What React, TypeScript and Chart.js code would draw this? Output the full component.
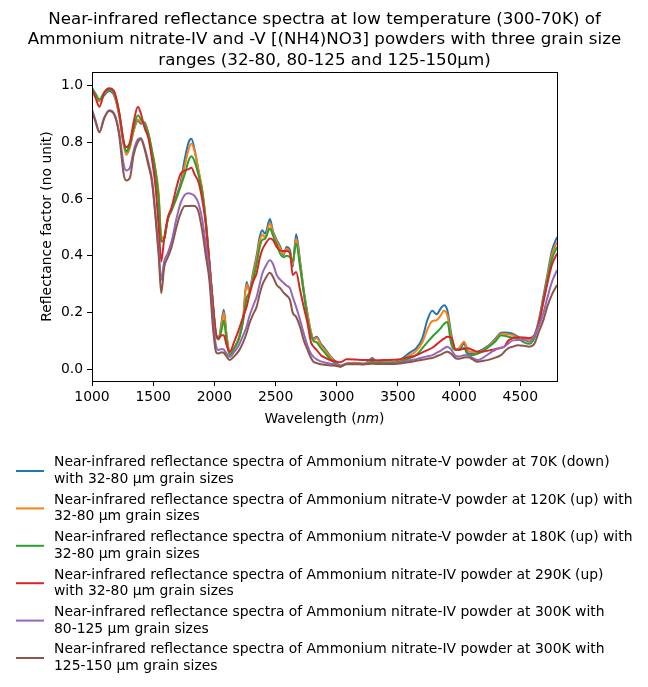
import React, { useEffect, useRef } from 'react';
import { Chart, registerables } from 'chart.js';

Chart.register(...registerables);

// ---------------- DATA ----------------
const wavelengths = [
  1000, 1030, 1060, 1100, 1140, 1180, 1220, 1260, 1280, 1310, 1340, 1375, 1400, 1430, 1460, 1490, 1520, 1545, 1566, 1590,
  1620, 1650, 1690, 1720, 1760, 1790, 1812, 1840, 1870, 1900, 1930, 1960, 1990, 2015, 2035, 2060, 2077, 2100, 2126, 2160,
  2200, 2235, 2263, 2285, 2318, 2345, 2370, 2390, 2415, 2454, 2480, 2510, 2540, 2565, 2590, 2618, 2640, 2668, 2700, 2730,
  2760, 2790, 2810, 2837, 2870, 2900, 2950, 3000, 3030, 3080, 3150, 3220, 3260, 3290, 3320, 3400, 3500, 3600, 3650, 3700,
  3740, 3781, 3816, 3850, 3876, 3904, 3935, 3972, 4000, 4040, 4075, 4110, 4150, 4200, 4260, 4300, 4342, 4370, 4400, 4440,
  4480, 4530, 4575, 4615, 4650, 4690, 4720, 4760, 4800,
];

const nitrateV_70K = [
  0.99, 0.965, 0.945, 0.965, 0.98, 0.965, 0.9, 0.79, 0.77, 0.79, 0.84, 0.875, 0.865, 0.87, 0.83, 0.76, 0.69, 0.6, 0.45, 0.46,
  0.53, 0.56, 0.61, 0.65, 0.745, 0.8, 0.812, 0.77, 0.7, 0.63, 0.52, 0.37, 0.22, 0.12, 0.11, 0.17, 0.21, 0.12, 0.055, 0.075,
  0.11, 0.18, 0.308, 0.28, 0.345, 0.4, 0.465, 0.49, 0.478, 0.529, 0.485, 0.455, 0.43, 0.402, 0.431, 0.42, 0.361, 0.476, 0.384, 0.28,
  0.2, 0.13, 0.109, 0.115, 0.09, 0.075, 0.045, 0.025, 0.012, 0.02, 0.023, 0.02, 0.028, 0.04, 0.028, 0.025, 0.03, 0.06, 0.075, 0.11,
  0.173, 0.206, 0.194, 0.215, 0.226, 0.208, 0.127, 0.068, 0.068, 0.091, 0.056, 0.055, 0.062, 0.072, 0.091, 0.11, 0.129, 0.13, 0.129, 0.125,
  0.115, 0.106, 0.107, 0.12, 0.17, 0.26, 0.33, 0.42, 0.466,
];

const nitrateV_120K = [
  0.99, 0.965, 0.945, 0.97, 0.985, 0.97, 0.9, 0.79, 0.755, 0.78, 0.84, 0.88, 0.87, 0.865, 0.83, 0.77, 0.7, 0.62, 0.47, 0.46,
  0.53, 0.56, 0.6, 0.64, 0.72, 0.775, 0.795, 0.765, 0.7, 0.635, 0.525, 0.375, 0.22, 0.12, 0.11, 0.16, 0.2, 0.12, 0.055, 0.075,
  0.11, 0.175, 0.3, 0.275, 0.335, 0.39, 0.45, 0.475, 0.465, 0.515, 0.48, 0.45, 0.425, 0.405, 0.425, 0.41, 0.37, 0.46, 0.375, 0.275,
  0.195, 0.13, 0.105, 0.11, 0.085, 0.07, 0.042, 0.022, 0.013, 0.02, 0.022, 0.02, 0.025, 0.035, 0.025, 0.024, 0.028, 0.05, 0.065, 0.095,
  0.14, 0.17, 0.173, 0.19, 0.206, 0.19, 0.115, 0.07, 0.075, 0.097, 0.066, 0.06, 0.06, 0.068, 0.088, 0.105, 0.125, 0.125, 0.123, 0.12,
  0.112, 0.104, 0.105, 0.118, 0.165, 0.25, 0.32, 0.405, 0.449,
];

const nitrateV_180K = [
  0.99, 0.97, 0.95, 0.975, 0.985, 0.975, 0.91, 0.8, 0.765, 0.79, 0.85, 0.895, 0.88, 0.86, 0.83, 0.77, 0.695, 0.6, 0.45, 0.46,
  0.53, 0.56, 0.605, 0.64, 0.69, 0.735, 0.75, 0.73, 0.685, 0.625, 0.52, 0.375, 0.22, 0.12, 0.105, 0.14, 0.173, 0.1, 0.05, 0.072,
  0.105, 0.17, 0.25, 0.27, 0.32, 0.37, 0.43, 0.455, 0.46, 0.496, 0.47, 0.44, 0.405, 0.395, 0.4, 0.395, 0.38, 0.443, 0.36, 0.27,
  0.18, 0.12, 0.1, 0.095, 0.075, 0.06, 0.035, 0.018, 0.009, 0.02, 0.02, 0.018, 0.022, 0.028, 0.022, 0.022, 0.025, 0.04, 0.05, 0.075,
  0.095, 0.115, 0.13, 0.145, 0.16, 0.167, 0.09, 0.068, 0.068, 0.075, 0.05, 0.05, 0.055, 0.065, 0.085, 0.1, 0.12, 0.118, 0.115, 0.112,
  0.108, 0.095, 0.09, 0.11, 0.16, 0.245, 0.31, 0.39, 0.431,
];

const nitrateIV_290K = [
  0.985, 0.955, 0.925, 0.975, 0.99, 0.98, 0.91, 0.8, 0.782, 0.8, 0.87, 0.925, 0.9, 0.85, 0.815, 0.74, 0.64, 0.5, 0.38, 0.46,
  0.535, 0.57, 0.64, 0.685, 0.7, 0.705, 0.71, 0.685, 0.66, 0.6, 0.51, 0.37, 0.22, 0.12, 0.11, 0.12, 0.12, 0.085, 0.062, 0.095,
  0.14, 0.185, 0.22, 0.26, 0.31, 0.338, 0.39, 0.42, 0.44, 0.461, 0.455, 0.43, 0.418, 0.417, 0.417, 0.41, 0.332, 0.343, 0.28, 0.22,
  0.165, 0.095, 0.08, 0.068, 0.05, 0.042, 0.032, 0.027, 0.025, 0.036, 0.035, 0.033, 0.033, 0.033, 0.032, 0.033, 0.035, 0.044, 0.05, 0.06,
  0.068, 0.076, 0.088, 0.1, 0.108, 0.115, 0.112, 0.07, 0.07, 0.072, 0.074, 0.068, 0.062, 0.063, 0.068, 0.072, 0.076, 0.08, 0.1, 0.11,
  0.113, 0.112, 0.11, 0.12, 0.16, 0.24, 0.3, 0.37, 0.408,
];

const nitrateIV_300K_80_125 = [
  0.915, 0.875, 0.835, 0.885, 0.912, 0.9, 0.84, 0.72, 0.7, 0.71, 0.77, 0.81, 0.815, 0.78, 0.73, 0.67, 0.54, 0.42, 0.315, 0.38,
  0.41, 0.45, 0.53, 0.58, 0.615, 0.62, 0.618, 0.61, 0.585, 0.53, 0.44, 0.34, 0.17, 0.08, 0.068, 0.072, 0.07, 0.055, 0.044, 0.06,
  0.085, 0.12, 0.15, 0.185, 0.225, 0.255, 0.3, 0.335, 0.36, 0.384, 0.37, 0.332, 0.315, 0.305, 0.295, 0.285, 0.255, 0.22, 0.175, 0.127,
  0.085, 0.055, 0.044, 0.035, 0.028, 0.024, 0.02, 0.016, 0.013, 0.02, 0.02, 0.018, 0.02, 0.022, 0.02, 0.02, 0.022, 0.032, 0.036, 0.042,
  0.046, 0.05, 0.058, 0.066, 0.074, 0.08, 0.07, 0.047, 0.045, 0.05, 0.05, 0.04, 0.033, 0.042, 0.06, 0.07, 0.075, 0.08, 0.09, 0.102,
  0.103, 0.103, 0.097, 0.12, 0.15, 0.2, 0.25, 0.31, 0.349,
];

const nitrateIV_300K_125_150 = [
  0.91, 0.87, 0.835, 0.885, 0.91, 0.9, 0.83, 0.685, 0.665, 0.675, 0.755, 0.8, 0.81, 0.775, 0.72, 0.66, 0.53, 0.4, 0.268, 0.36,
  0.395, 0.43, 0.5, 0.545, 0.575, 0.575, 0.576, 0.575, 0.555, 0.49, 0.4, 0.31, 0.14, 0.06, 0.056, 0.06, 0.058, 0.045, 0.033, 0.045,
  0.065, 0.095, 0.127, 0.16, 0.195, 0.22, 0.265, 0.295, 0.318, 0.34, 0.325, 0.297, 0.285, 0.27, 0.26, 0.244, 0.2, 0.185, 0.15, 0.103,
  0.07, 0.04, 0.027, 0.022, 0.018, 0.016, 0.014, 0.012, 0.01, 0.018, 0.018, 0.018, 0.019, 0.02, 0.019, 0.019, 0.02, 0.026, 0.03, 0.034,
  0.037, 0.04, 0.046, 0.052, 0.058, 0.062, 0.055, 0.039, 0.037, 0.042, 0.043, 0.035, 0.027, 0.03, 0.036, 0.042, 0.05, 0.062, 0.074, 0.08,
  0.085, 0.083, 0.08, 0.09, 0.13, 0.175, 0.22, 0.265, 0.297,
];

const seriesValues = [
  nitrateV_70K,
  nitrateV_120K,
  nitrateV_180K,
  nitrateIV_290K,
  nitrateIV_300K_80_125,
  nitrateIV_300K_125_150,
];

const seriesLabels = [
  ['Near-infrared reflectance spectra of Ammonium nitrate-V powder at 70K (down)', 'with 32-80 µm grain sizes'],
  ['Near-infrared reflectance spectra of Ammonium nitrate-V powder at 120K (up) with', '32-80 µm grain sizes'],
  ['Near-infrared reflectance spectra of Ammonium nitrate-V powder at 180K (up) with', '32-80 µm grain sizes'],
  ['Near-infrared reflectance spectra of Ammonium nitrate-IV powder at 290K (up)', 'with 32-80 µm grain sizes'],
  ['Near-infrared reflectance spectra of Ammonium nitrate-IV powder at 300K with', '80-125 µm grain sizes'],
  ['Near-infrared reflectance spectra of Ammonium nitrate-IV powder at 300K with', '125-150 µm grain sizes'],
];

const seriesColors = ['#1f77b4', '#ff7f0e', '#2ca02c', '#d62728', '#9467bd', '#8c564b'];

const titleLines = [
  'Near-infrared reflectance spectra at low temperature (300-70K) of',
  'Ammonium nitrate-IV and -V [(NH4)NO3] powders with three grain size',
  'ranges (32-80, 80-125 and 125-150µm)',
];

const xTickValues = [1000, 1500, 2000, 2500, 3000, 3500, 4000, 4500];
const yTickValues = [0, 0.2, 0.4, 0.6, 0.8, 1.0];

// ---------------- LAYOUT ----------------
const W = 648;
const H = 687;
const AREA = { left: 92, right: 557, top: 72, bottom: 381 };
const FONT = "'DejaVu Sans', sans-serif";

const decorPlugin = {
  id: 'decor',
  afterDraw(chart: any) {
    const ctx = chart.ctx as CanvasRenderingContext2D;
    const { left, right, top, bottom } = chart.chartArea;
    ctx.save();

    // frame
    ctx.strokeStyle = '#000';
    ctx.lineWidth = 1;
    ctx.strokeRect(Math.round(left) + 0.5, Math.round(top) + 0.5, Math.round(right - left), Math.round(bottom - top));

    // title
    ctx.fillStyle = '#000';
    ctx.font = `16.7px ${FONT}`;
    ctx.textAlign = 'center';
    ctx.textBaseline = 'middle';
    const cx = (left + right) / 2;
    titleLines.forEach((t, i) => ctx.fillText(t, cx, 19.5 + i * 20.5));

    // x axis label with italic nm
    ctx.font = `13.9px ${FONT}`;
    const p1 = 'Wavelength (';
    const p3 = ')';
    const w1 = ctx.measureText(p1).width;
    const w3 = ctx.measureText(p3).width;
    ctx.font = `italic 13.9px ${FONT}`;
    const p2 = 'nm';
    const w2 = ctx.measureText(p2).width;
    const total = w1 + w2 + w3;
    let x = cx - total / 2;
    const ly = 419;
    ctx.textAlign = 'left';
    ctx.font = `13.9px ${FONT}`;
    ctx.fillText(p1, x, ly);
    x += w1;
    ctx.font = `italic 13.9px ${FONT}`;
    ctx.fillText(p2, x, ly);
    x += w2;
    ctx.font = `13.9px ${FONT}`;
    ctx.fillText(p3, x, ly);

    // y axis label
    ctx.save();
    ctx.translate(47, (top + bottom) / 2);
    ctx.rotate(-Math.PI / 2);
    ctx.textAlign = 'center';
    ctx.fillText('Reflectance factor (no unit)', 0, 0);
    ctx.restore();

    // legend
    ctx.font = `13.9px ${FONT}`;
    ctx.textAlign = 'left';
    ctx.textBaseline = 'middle';
    seriesLabels.forEach((lines, i) => {
      const hy = 471 + i * 37.4;
      ctx.strokeStyle = seriesColors[i];
      ctx.lineWidth = 2;
      ctx.beginPath();
      ctx.moveTo(16, hy);
      ctx.lineTo(44, hy);
      ctx.stroke();
      ctx.fillStyle = '#000';
      ctx.fillText(lines[0], 54, hy - 8.2);
      ctx.fillText(lines[1], 54, hy + 8.4);
    });

    ctx.restore();
  },
};

export default function App() {
  const canvasRef = useRef<HTMLCanvasElement | null>(null);

  useEffect(() => {
    if (!canvasRef.current) return;
    const datasets = seriesValues.map((vals, i) => ({
      label: seriesLabels[i].join(' '),
      data: wavelengths.map((w, k) => ({ x: w, y: vals[k] })),
      borderColor: seriesColors[i],
      backgroundColor: seriesColors[i],
      borderWidth: 2,
      pointRadius: 0,
      cubicInterpolationMode: 'monotone' as const,
      fill: false,
      order: seriesValues.length - i,
    }));

    const chart = new Chart(canvasRef.current, {
      type: 'line',
      data: { datasets },
      options: {
        animation: false,
        responsive: false,
        maintainAspectRatio: false,
        layout: {
          padding: { left: 0, top: AREA.top, right: W - AREA.right, bottom: H - AREA.bottom - 40 },
        },
        plugins: {
          legend: { display: false },
          title: { display: false },
          tooltip: { enabled: false },
        },
        scales: {
          x: {
            type: 'linear',
            min: 1000,
            max: 4800,
            afterFit: (s: any) => {
              s.height = 40;
            },
            afterBuildTicks: (s: any) => {
              s.ticks = xTickValues.map((v) => ({ value: v }));
            },
            ticks: {
              color: '#000',
              font: { family: FONT, size: 13.9 },
              padding: 3,
              maxRotation: 0,
              autoSkip: false,
              callback: (v: any) => String(v),
            },
            grid: { display: true, drawOnChartArea: false, drawTicks: true, tickLength: 5, color: '#000', lineWidth: 1 },
            border: { display: false },
          },
          y: {
            type: 'linear',
            min: -0.041,
            max: 1.047,
            afterFit: (s: any) => {
              s.width = AREA.left;
            },
            afterBuildTicks: (s: any) => {
              s.ticks = yTickValues.map((v) => ({ value: v }));
            },
            ticks: {
              color: '#000',
              font: { family: FONT, size: 13.9 },
              padding: 4,
              autoSkip: false,
              callback: (v: any) => Number(v).toFixed(1),
            },
            grid: { display: true, drawOnChartArea: false, drawTicks: true, tickLength: 5, color: '#000', lineWidth: 1 },
            border: { display: false },
          },
        },
      },
      plugins: [decorPlugin],
    });

    return () => chart.destroy();
  }, []);

  return (
    <div style={{ position: 'absolute', left: 0, top: 0, width: W, height: H, background: '#fff' }}>
      <canvas ref={canvasRef} width={W} height={H} style={{ display: 'block' }} />
    </div>
  );
}
